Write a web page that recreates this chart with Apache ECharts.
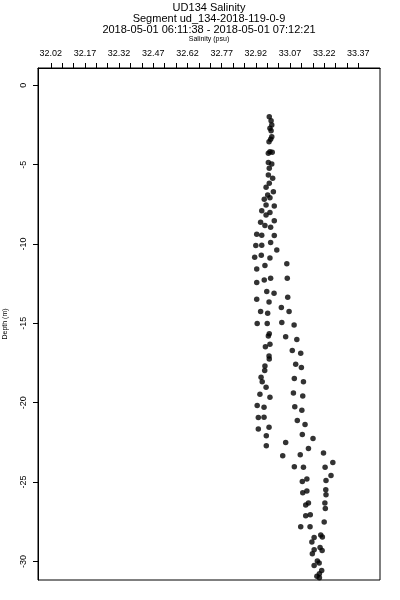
<!DOCTYPE html>
<html>
<head>
<meta charset="utf-8">
<script src="https://cdn.jsdelivr.net/npm/echarts@6/dist/echarts.min.js"></script>
<style>
  html, body { margin: 0; padding: 0; background: #fff; }
  #chart { width: 400px; height: 600px; }
</style>
</head>
<body>
<div id="chart"></div>
<script>
const titleLines = [
  'UD134 Salinity',
  'Segment ud_134-2018-119-0-9',
  '2018-05-01 06:11:38 - 2018-05-01 07:12:21'
];
const xAxisName = 'Salinity (psu)';
const yAxisName = 'Depth (m)';

const xLabelTicks = [32.02, 32.17, 32.32, 32.47, 32.62, 32.77, 32.92, 33.07, 33.22, 33.37];
const xMinorTicks = [32.02, 32.07, 32.12, 32.17, 32.22, 32.27, 32.32, 32.37, 32.42, 32.47,
  32.52, 32.57, 32.62, 32.67, 32.72, 32.77, 32.82, 32.87, 32.92, 32.97, 33.02, 33.07,
  33.12, 33.17, 33.22, 33.27, 33.32, 33.37];
const yTicks = [0, -5, -10, -15, -20, -25, -30];

const salinity = [
  32.979,32.987,32.990,32.982,32.987,32.990,32.985,32.978,32.982,32.992,
  32.975,32.975,32.990,32.979,32.975,32.994,32.979,32.965,32.997,32.972,
  32.982,32.957,32.965,33.001,32.946,32.982,32.965,33.001,32.941,32.960,
  32.985,32.924,32.946,33.001,32.985,32.920,32.946,33.012,32.915,32.944,
  32.982,33.056,32.960,32.924,
  32.924,32.957,32.985,33.058,32.968,33.000,32.924,32.978,33.060,32.941,
  32.972,33.032,33.066,32.926,32.970,33.034,33.088,32.979,32.975,33.051,
  33.100,32.982,32.962,33.080,33.117,32.978,32.979,33.095,33.120,32.960,
  32.959,32.943,32.948,33.089,33.129,32.965,32.938,32.982,33.085,33.126,
  32.926,32.956,33.091,33.122,32.931,32.956,33.102,33.136,32.978,32.931,
  32.966,33.124,33.171,32.966,33.051,33.151,33.038,33.115,33.217,33.089,
  33.129,33.224,33.258,33.250,33.228,33.124,33.144,33.126,33.144,33.227,
  33.228,33.151,33.139,33.223,33.225,33.139,33.159,33.220,33.117,33.158,
  33.205,33.212,33.176,33.166,33.202,33.211,33.176,33.168,33.190,33.198,
  33.176,33.209,33.199,33.188,33.199
];
const depth = [
  -1.98,-2.23,-2.50,-2.71,-2.86,-3.24,-3.40,-3.55,-4.18,-4.22,
  -4.28,-4.87,-4.96,-5.23,-5.65,-5.86,-6.17,-6.42,-6.70,-6.91,
  -7.08,-7.18,-7.54,-7.60,-7.90,-8.02,-8.17,-8.53,-8.63,-8.84,
  -8.94,-9.38,-9.45,-9.47,-9.91,-10.10,-10.08,-10.37,-10.83,-10.71,
  -10.88,-11.25,-11.36,-11.57,
  -12.43,-12.26,-12.15,-12.15,-13.00,-13.10,-13.48,-13.66,-13.35,-14.26,
  -14.36,-14.00,-14.26,-15.01,-15.01,-14.95,-15.11,-15.66,-15.79,-15.85,
  -16.02,-16.31,-16.48,-16.71,-16.88,-17.05,-17.24,-17.57,-17.78,-17.68,
  -17.97,-18.39,-18.68,-18.48,-18.68,-19.02,-19.46,-19.65,-19.38,-19.58,
  -20.18,-20.28,-20.26,-20.47,-20.93,-20.91,-21.12,-21.37,-21.54,-21.66,
  -22.08,-22.00,-22.25,-22.71,-22.51,-22.88,-23.34,-23.28,-23.17,-24.04,
  -24.06,-24.06,-23.77,-24.58,-24.90,-24.96,-24.81,-25.67,-25.57,-25.48,
  -25.80,-26.32,-26.45,-26.32,-26.66,-27.12,-27.06,-27.52,-27.81,-27.81,
  -28.34,-28.46,-28.49,-28.78,-29.12,-29.31,-29.26,-29.51,-29.97,-30.10,
  -30.25,-30.57,-30.77,-30.94,-31.03
];

const points = salinity.map((s, i) => [s, depth[i]]);
const FONT = 'Liberation Sans, Arial, Helvetica, sans-serif';

const GRID = { left: 38, right: 20, top: 68, bottom: 20 };
const plotCenterX = GRID.left + (400 - GRID.left - GRID.right) / 2;

const chart = echarts.init(document.getElementById('chart'), null, { renderer: 'canvas' });
chart.setOption({
  animation: false,
  backgroundColor: '#ffffff',
  graphic: titleLines.map((t, i) => ({
    type: 'text',
    x: plotCenterX,
    y: 8 + i * 11,
    silent: true,
    style: {
      text: t,
      fontFamily: FONT, fontSize: 11, fill: '#000',
      textAlign: 'center', textVerticalAlign: 'middle'
    }
  })),
  grid: Object.assign({}, GRID, {
    outerBoundsMode: 'none',
    containLabel: false,
    show: true, borderColor: '#000', borderWidth: 1, backgroundColor: 'transparent'
  }),
  xAxis: {
    type: 'value',
    position: 'top',
    min: 31.964,
    max: 33.465,
    name: xAxisName,
    nameLocation: 'middle',
    nameGap: 25,
    nameTextStyle: { fontFamily: FONT, fontSize: 7, color: '#000' },
    axisLine: { show: true, onZero: false, lineStyle: { color: '#000', width: 1 } },
    axisTick: { show: true, inside: false, length: 5, customValues: xMinorTicks, lineStyle: { color: '#000', width: 1 } },
    axisLabel: {
      customValues: xLabelTicks,
      formatter: v => v.toFixed(2),
      fontFamily: FONT, fontSize: 9, color: '#000', margin: 10
    },
    splitLine: { show: false }
  },
  yAxis: {
    type: 'value',
    min: -31.17,
    max: 1.09,
    name: yAxisName,
    nameLocation: 'middle',
    nameGap: 29,
    nameTextStyle: { fontFamily: FONT, fontSize: 7, color: '#000' },
    axisLine: { show: true, onZero: false, lineStyle: { color: '#000', width: 1 } },
    axisTick: { show: true, inside: false, length: 5, customValues: yTicks, lineStyle: { color: '#000', width: 1 } },
    axisLabel: {
      customValues: yTicks,
      rotate: 90,
      fontFamily: FONT, fontSize: 9, color: '#000', margin: 10
    },
    splitLine: { show: false }
  },
  series: [{
    type: 'scatter',
    data: points,
    symbol: 'circle',
    symbolSize: 5.5,
    itemStyle: { color: '#000' },
    silent: true
  }]
});
</script>
</body>
</html>
